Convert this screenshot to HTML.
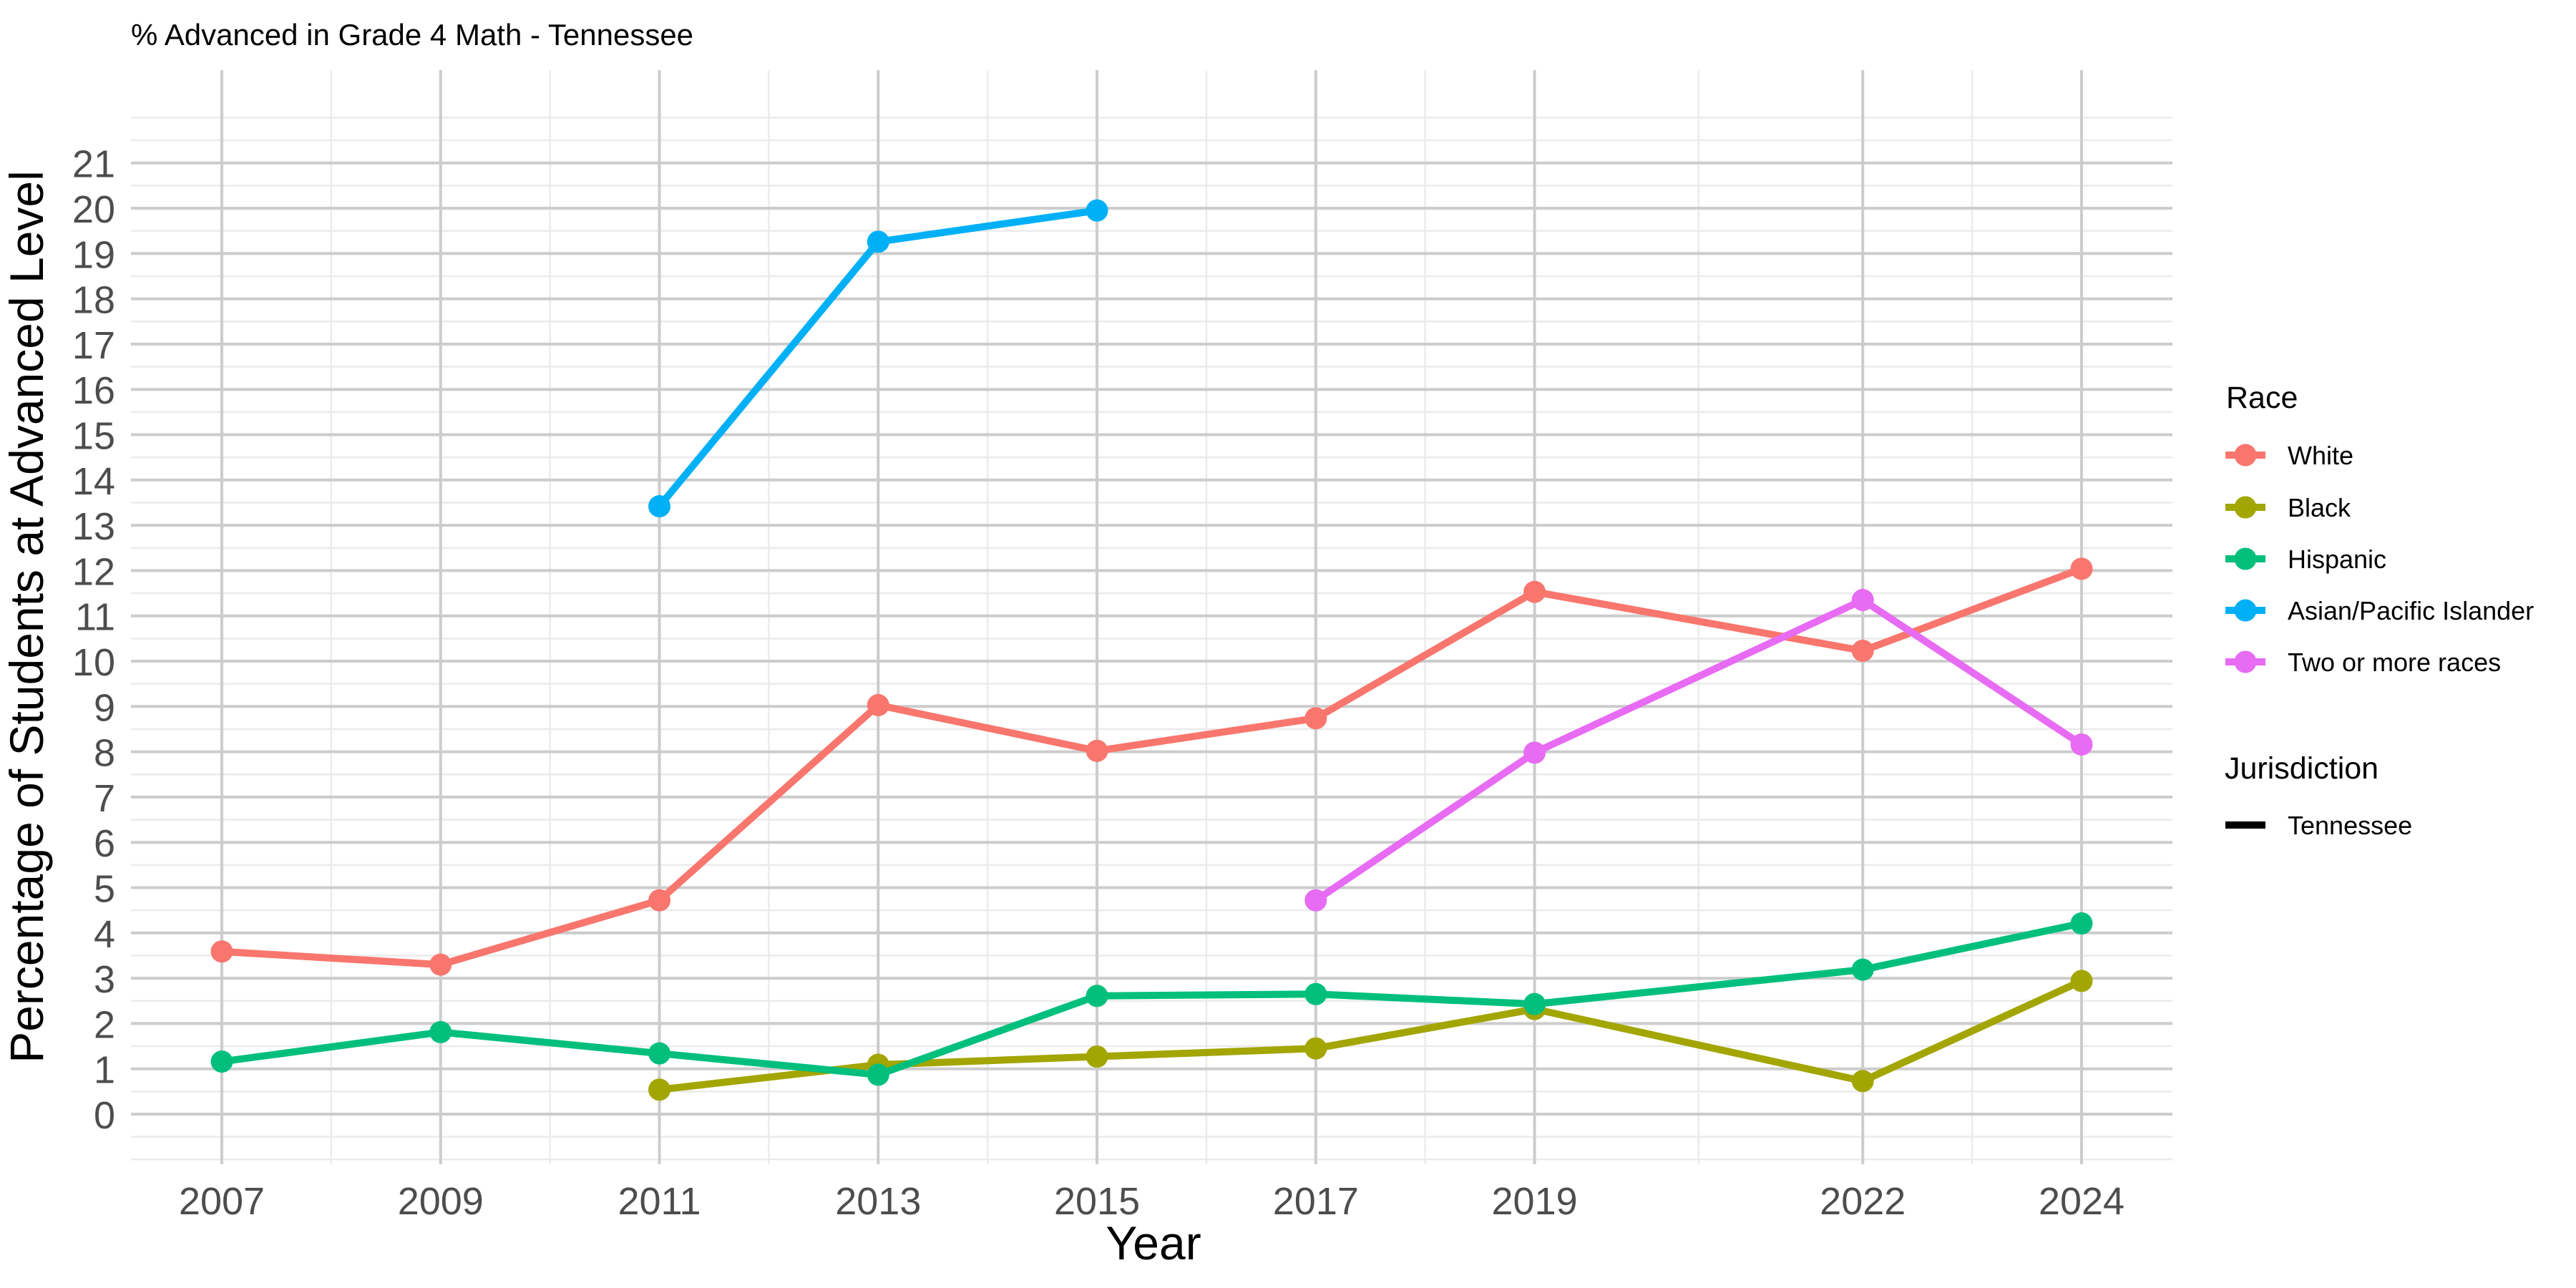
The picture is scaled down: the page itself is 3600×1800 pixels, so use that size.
<!DOCTYPE html>
<html><head><meta charset="utf-8"><style>
html,body{margin:0;padding:0;background:#fff;}
svg{display:block;font-family:"Liberation Sans",Arial,sans-serif;}
</style></head><body>
<svg id="chart" width="3600" height="1800" viewBox="0 0 3600 1800" xmlns="http://www.w3.org/2000/svg">
<rect width="3600" height="1800" fill="#fff"/>
<text x="183" y="63" font-size="42" fill="#000">% Advanced in Grade 4 Math - Tennessee</text>
<g id="grid"></g>
<g id="series"></g>
<g id="yticks"></g>
<g id="xticks"></g>
<text transform="translate(60,862) rotate(-90)" text-anchor="middle" font-size="66" fill="#000">Percentage of Students at Advanced Level</text>
<text x="1612" y="1760" text-anchor="middle" font-size="66" fill="#000">Year</text>
<g id="legend"></g>
</svg>
<script>
const years = [2007, 2009, 2011, 2013, 2015, 2017, 2019, 2022, 2024];
const minorYears = [2008, 2010, 2012, 2014, 2016, 2018, 2020.5, 2023];
const yTicks = [0,1,2,3,4,5,6,7,8,9,10,11,12,13,14,15,16,17,18,19,20,21];
const seriesNames = ["White", "Black", "Hispanic", "Asian/Pacific Islander", "Two or more races"];
const seriesColors = ["#F8766D", "#A3A500", "#00BF7D", "#00B0F6", "#E76BF3"];
const whiteYears = [2007, 2009, 2011, 2013, 2015, 2017, 2019, 2022, 2024];
const whiteValues = [3.59, 3.3, 4.72, 9.03, 8.02, 8.74, 11.53, 10.23, 12.04];
const blackYears = [2011, 2013, 2015, 2017, 2019, 2022, 2024];
const blackValues = [0.54, 1.09, 1.27, 1.45, 2.32, 0.73, 2.94];
const hispanicYears = [2007, 2009, 2011, 2013, 2015, 2017, 2019, 2022, 2024];
const hispanicValues = [1.16, 1.81, 1.34, 0.87, 2.61, 2.65, 2.43, 3.19, 4.21];
const asianYears = [2011, 2013, 2015];
const asianValues = [13.42, 19.26, 19.95];
const twoYears = [2017, 2019, 2022, 2024];
const twoValues = [4.72, 7.98, 11.35, 8.16];

const NS = "http://www.w3.org/2000/svg";
const PL = 183, PR = 3036, PT = 98, PB = 1627;
function xs(yr){ return 310 + (yr - 2007) * (2909 - 310) / 17; }
function ys(v){ return 1557 - v * 63.3; }
function mk(tag, attrs, parent){
  const e = document.createElementNS(NS, tag);
  for (const k in attrs) e.setAttribute(k, attrs[k]);
  parent.appendChild(e); return e;
}
const grid = document.getElementById('grid');
// minor horizontal
for (let v = -1; v <= 22.001; v += 0.5) {
  if (Number.isInteger(v) && v >= 0 && v <= 21) continue;
  const l = mk('line', {x1:PL, x2:PR, y1:ys(v), y2:ys(v), stroke:'#ebebeb', 'stroke-width':2.5}, grid);
  
  
}
minorYears.forEach(yr => {
  const l = mk('line', {x1:xs(yr), x2:xs(yr), y1:PT, y2:PB, stroke:'#ebebeb', 'stroke-width':2.5}, grid);
  
  
});
yTicks.forEach(v => {
  const l = mk('line', {x1:PL, x2:PR, y1:ys(v), y2:ys(v), stroke:'#cccccc', 'stroke-width':4}, grid);
  
  
  const t = mk('text', {x:161, y:ys(v)+20, 'text-anchor':'end', 'font-size':54, fill:'#4d4d4d'}, document.getElementById('yticks'));
  t.textContent = v;
  
  
});
years.forEach(yr => {
  const l = mk('line', {x1:xs(yr), x2:xs(yr), y1:PT, y2:PB, stroke:'#cccccc', 'stroke-width':4}, grid);
  
  
  const t = mk('text', {x:xs(yr), y:1697, 'text-anchor':'middle', 'font-size':54, fill:'#4d4d4d'}, document.getElementById('xticks'));
  t.textContent = yr;
  
  
});
const allX = [whiteYears, blackYears, hispanicYears, asianYears, twoYears];
const allY = [whiteValues, blackValues, hispanicValues, asianValues, twoValues];
const sg = document.getElementById('series');
allX.forEach((xa, i) => {
  const g = mk('g', {}, sg);
  
  
  const pts = xa.map((yr, j) => xs(yr) + ',' + ys(allY[i][j])).join(' ');
  const pl = mk('polyline', {points:pts, fill:'none', stroke:seriesColors[i], 'stroke-width':10, 'stroke-linejoin':'round'}, g);
  
  
  xa.forEach((yr, j) => {
    const c = mk('circle', {cx:xs(yr), cy:ys(allY[i][j]), r:15.5, fill:seriesColors[i]}, g);
    
    
  });
});
const lg = document.getElementById('legend');
const rt = mk('text', {x:3111, y:570, 'font-size':43, fill:'#000'}, lg);
rt.textContent = 'Race';


const legY = [636, 709, 781, 853, 925];
seriesNames.forEach((n, i) => {
  const g = mk('g', {}, lg);
  
  
  mk('line', {x1:3110, x2:3166, y1:legY[i], y2:legY[i], stroke:seriesColors[i], 'stroke-width':10}, g);
  mk('circle', {cx:3138, cy:legY[i], r:15.5, fill:seriesColors[i]}, g);
  const t = mk('text', {x:3197, y:legY[i]+13, 'font-size':36, fill:'#000'}, g);
  t.textContent = n;
});
const jt = mk('text', {x:3109, y:1088, 'font-size':43, fill:'#000'}, lg);
jt.textContent = 'Jurisdiction';


const jg = mk('g', {}, lg);


mk('line', {x1:3110, x2:3166, y1:1153, y2:1153, stroke:'#000', 'stroke-width':10}, jg);
const tt = mk('text', {x:3197, y:1166, 'font-size':36, fill:'#000'}, jg);
tt.textContent = 'Tennessee';
</script>
</body></html>
